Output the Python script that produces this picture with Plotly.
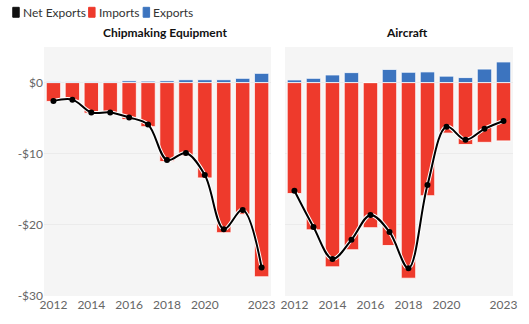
import plotly.graph_objects as go
from plotly.subplots import make_subplots

years = list(range(2012, 2024))
tick_years = [2012, 2014, 2016, 2018, 2020, 2023]
tick_labels = ["2012", "2014", "2016", "2018", "2020", "2023"]

chip_exports = [0.12, 0.12, 0.12, 0.12, 0.25, 0.2, 0.25, 0.4, 0.4, 0.4, 0.6, 1.3]
chip_imports = [-2.65, -2.5, -4.3, -4.3, -5.2, -6.2, -11.1, -10.3, -13.4, -21.1, -18.5, -27.3]
chip_net = [-2.6, -2.4, -4.2, -4.2, -4.9, -5.9, -10.9, -9.9, -13.0, -20.6, -17.9, -26.0]

air_exports = [0.37, 0.6, 1.07, 1.4, 0.0, 1.85, 1.45, 1.5, 0.9, 0.7, 1.9, 2.9]
air_imports = [-15.6, -20.7, -25.9, -23.5, -20.4, -22.9, -27.5, -15.9, -7.1, -8.7, -8.4, -8.2]
air_net = [-15.2, -20.3, -24.8, -22.1, -18.6, -21.0, -26.1, -14.4, -6.2, -8.05, -6.5, -5.4]

y_ticks = [0, -10, -20, -30]
y_labels = ["$0", "-$10", "-$20", "-$30"]

legend_names = ["Net Exports", "Imports", "Exports"]

RED = "#ee3a2c"
BLUE = "#3c74bf"
FONT = "Lato"
legend_colors = ["#111111", RED, BLUE]

W, H = 529, 324
ML, MR, MT, MB = 44, 12, 47, 26
PW = W - ML - MR
PH = H - MT - MB


def px_x(px):
    return (px - ML) / PW


def px_y(py):
    return (H - MB - py) / PH


fig = make_subplots(rows=1, cols=2, shared_yaxes=True, horizontal_spacing=0.03)

for c, (exp, imp, net) in enumerate([(chip_exports, chip_imports, chip_net),
                                      (air_exports, air_imports, air_net)], start=1):
    fig.add_trace(go.Bar(x=years, y=imp, name="Imports",
                         marker=dict(color=RED, line=dict(color="white", width=0.8)),
                         width=0.76), row=1, col=c)
    fig.add_trace(go.Bar(x=years, y=exp, name="Exports",
                         marker=dict(color=BLUE, line=dict(color="white", width=0.8)),
                         width=0.76), row=1, col=c)
    fig.add_trace(go.Scatter(x=years, y=net, mode="lines",
                             line=dict(color="white", width=4, shape="spline", smoothing=1.0),
                             hoverinfo="skip"), row=1, col=c)
    fig.add_trace(go.Scatter(x=years, y=net, mode="lines+markers", name="Net Exports",
                             line=dict(color="black", width=2, shape="spline", smoothing=1.0),
                             marker=dict(color="black", size=6)), row=1, col=c)

fig.update_layout(
    width=W, height=H,
    margin=dict(l=ML, r=MR, t=MT, b=MB),
    barmode="relative",
    paper_bgcolor="white",
    plot_bgcolor="#f5f5f5",
    font=dict(family=FONT, size=12, color="#666666"),
    showlegend=False,
)

fig.update_xaxes(range=[2011.5, 2023.5], tickvals=tick_years, ticktext=tick_labels,
                 showgrid=False, zeroline=False, ticks="", tickfont=dict(size=12, color="#666666"))
fig.update_yaxes(range=[-30, 5], tickvals=y_ticks, ticktext=y_labels, showgrid=True,
                 gridcolor="#ebebeb", zeroline=False, tickfont=dict(size=12, color="#666666"))
fig.update_layout(xaxis=dict(domain=[0, px_x(273)]), xaxis2=dict(domain=[px_x(287), 1.0]))

# subplot titles
fig.add_annotation(text="<b>Chipmaking Equipment</b>", x=px_x(166), y=px_y(32), xref="paper", yref="paper",
                   xanchor="center", yanchor="middle", showarrow=False,
                   font=dict(size=12, color="#111111", family=FONT))
fig.add_annotation(text="<b>Aircraft</b>", x=px_x(410), y=px_y(32), xref="paper", yref="paper",
                   xanchor="center", yanchor="middle", showarrow=False,
                   font=dict(size=12, color="#111111", family=FONT))

# custom compact legend
box_x = [12.5, 89, 144]
text_x = [20.5, 97, 152]
for name, col, bx, tx in zip(legend_names, legend_colors, box_x, text_x):
    fig.add_shape(type="rect", xref="paper", yref="paper",
                  x0=px_x(bx), x1=px_x(bx + 6.5), y0=px_y(17), y1=px_y(7),
                  fillcolor=col, line=dict(color=col, width=1), layer="above")
    fig.add_annotation(text=name, x=px_x(tx), y=px_y(12.5), xref="paper", yref="paper",
                       xanchor="left", yanchor="middle", showarrow=False,
                       font=dict(size=12, color="#333333", family=FONT))

fig.write_html("out.html")
